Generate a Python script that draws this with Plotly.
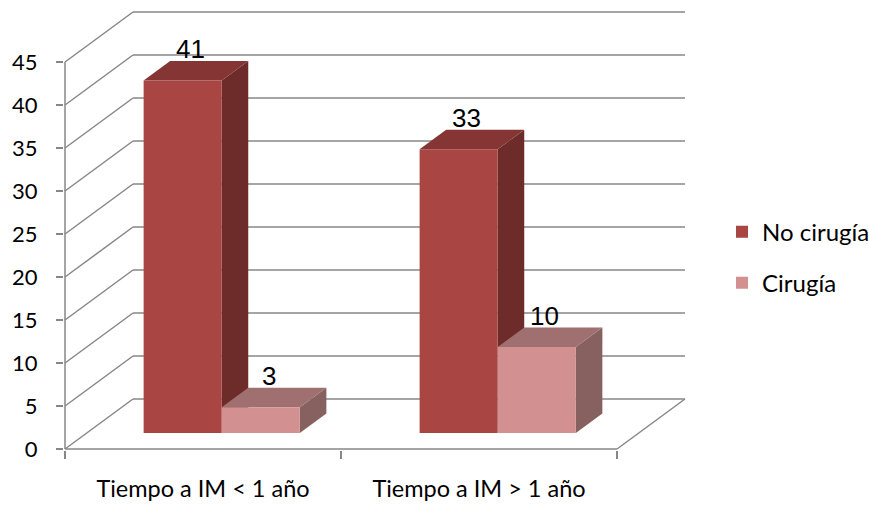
import plotly.graph_objects as go

# ---- data -------------------------------------------------------------
categories = ["Tiempo a IM < 1 año", "Tiempo a IM > 1 año"]
series_names = ["No cirugía", "Cirugía"]
no_cirugia = [41, 33]
cirugia = [3, 10]
y_ticks = [0, 5, 10, 15, 20, 25, 30, 35, 40, 45]

series_values = [no_cirugia, cirugia]
face_colors = [
    # front, top, side
    ("#A94543", "#853634", "#6D2C2A"),
    ("#D29190", "#A07070", "#876060"),
]

# ---- pseudo-3D geometry (in axis units) -------------------------------
PX_X, PX_Y = 276.0, 8.6          # pixels per x unit / per y unit
WALL_DX, WALL_DY = 68 / PX_X, 50 / PX_Y   # depth vector of the chart box
BAR_Z0, BAR_Z1 = 0.32, 0.71      # bar depth span as a fraction of the box depth
BAR_W = 0.283
PAIR_SHIFT = -0.011              # small leftward nudge of each bar pair
GRID = "#878787"
Y_MAX = y_ticks[-1]
X_LO, X_HI = -0.5, len(categories) - 0.5

# plot-area placement
PLOT_L, PLOT_R, PLOT_T, PLOT_B = 64, 690, 8, 450
W, H = 869, 507
x0 = X_LO - (65 - PLOT_L) / PX_X
x1 = x0 + (PLOT_R - PLOT_L) / PX_X
y0 = -(PLOT_B - 449) / PX_Y
y1 = y0 + (PLOT_B - PLOT_T) / PX_Y

shapes = []


def line(xa, ya, xb, yb):
    shapes.append(dict(type="line", xref="x", yref="y", x0=xa, y0=ya, x1=xb, y1=yb,
                       line=dict(color=GRID, width=1.5), layer="below"))


def poly(pts, color):
    path = "M " + " L ".join(f"{px},{py}" for px, py in pts) + " Z"
    shapes.append(dict(type="path", xref="x", yref="y", path=path,
                       fillcolor=color, line=dict(width=0), layer="below"))


# back wall gridlines and side wall diagonals
for v in y_ticks:
    line(X_LO + WALL_DX, v + WALL_DY, X_HI + WALL_DX, v + WALL_DY)
    line(X_LO, v, X_LO + WALL_DX, v + WALL_DY)
# front-left edge, floor front edge and floor right edge
line(X_LO, 0, X_LO, Y_MAX)
line(X_LO, 0, X_HI, 0)
line(X_HI, 0, X_HI + WALL_DX, WALL_DY)

# bar depth offsets
bx0, by0 = BAR_Z0 * WALL_DX + PAIR_SHIFT, BAR_Z0 * WALL_DY
bdx, bdy = (BAR_Z1 - BAR_Z0) * WALL_DX, (BAR_Z1 - BAR_Z0) * WALL_DY

fig = go.Figure()
annotations = []

for gi in range(len(categories)):
    for si, vals in enumerate(series_values):
        v = vals[gi]
        front, top, side = face_colors[si]
        xl = gi + (si - 1) * BAR_W + bx0
        xr = xl + BAR_W
        yb, yt = by0, by0 + v
        # side face
        poly([(xr, yb), (xr + bdx, yb + bdy), (xr + bdx, yt + bdy), (xr, yt)], side)
        # top face
        poly([(xl, yt), (xr, yt), (xr + bdx, yt + bdy), (xl + bdx, yt + bdy)], top)
        annotations.append(dict(
            x=(xl + xr) / 2 + 0.3 * bdx, y=yt + bdy, xref="x", yref="y",
            text=str(v), showarrow=False, yshift=12, yanchor="middle",
            font=dict(family="Liberation Sans, Arial", size=26, color="#000000")))

# front faces of the bars
for si, (name, vals) in enumerate(zip(series_names, series_values)):
    fig.add_trace(go.Bar(
        name=name,
        x=[gi + (si - 0.5) * BAR_W + bx0 for gi in range(len(categories))],
        y=vals,
        base=[by0] * len(vals),
        width=[BAR_W] * len(vals),
        marker=dict(color=face_colors[si][0], line=dict(width=0)),
        legendgroup=name,
        hoverinfo="skip",
    ))

FONT = "Lato, Calibri, sans-serif"

fig.update_layout(
    width=W, height=H,
    margin=dict(l=PLOT_L, r=W - PLOT_R, t=PLOT_T, b=H - PLOT_B, autoexpand=False),
    paper_bgcolor="white", plot_bgcolor="white",
    barmode="overlay",
    shapes=shapes,
    annotations=annotations,
    font=dict(family=FONT, size=20, color="#000000"),
    showlegend=True,
    legend=dict(
        x=(722 - PLOT_L) / (PLOT_R - PLOT_L), xanchor="left",
        y=(449 - 257) / (449 - PLOT_T), yanchor="middle",
        font=dict(family=FONT, size=24, color="#000000"),
        tracegroupgap=17, bgcolor="rgba(0,0,0,0)",
    ),
    xaxis=dict(
        range=[x0, x1], showgrid=False, zeroline=False, showline=False,
        tickmode="array", tickvals=list(range(len(categories))), ticktext=categories,
        ticks="", ticklabelstandoff=22,
        tickfont=dict(family=FONT, size=23.5, color="#000000"),
        minor=dict(tickmode="array", tickvals=[X_LO + k for k in range(len(categories) + 1)],
                   ticks="outside", ticklen=8, tickwidth=1.5, tickcolor=GRID, showgrid=False),
        fixedrange=True,
    ),
    yaxis=dict(
        range=[y0, y1], showgrid=False, zeroline=False, showline=False,
        tickmode="array", tickvals=y_ticks,
        ticks="outside", ticklen=7, tickwidth=1.5, tickcolor=GRID,
        ticklabelstandoff=14,
        tickfont=dict(family=FONT, size=22, color="#000000"),
        fixedrange=True,
    ),
)

fig.write_html("out.html")
